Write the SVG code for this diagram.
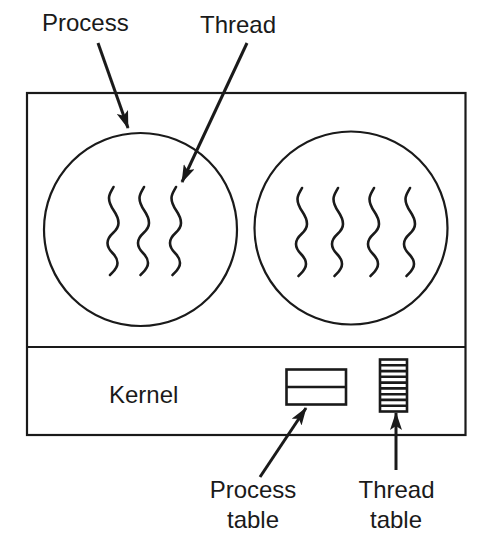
<svg xmlns="http://www.w3.org/2000/svg" xmlns:xlink="http://www.w3.org/1999/xlink" width="496" height="554" viewBox="0 0 496 554">
<style>
.box{fill:none;stroke:#1a1a1a;stroke-width:2.2}
.tbl{fill:#fff;stroke:#1a1a1a;stroke-width:2.6}
.wave{fill:none;stroke:#1a1a1a;stroke-width:2.6;stroke-linecap:round}
.arr{fill:none;stroke:#1a1a1a;stroke-width:3;marker-end:url(#ah)}
text{font-family:"Liberation Sans",Arial,Helvetica,sans-serif;font-size:24px;fill:#1a1a1a}
</style>
<defs>
<marker id="ah" markerUnits="userSpaceOnUse" markerWidth="18" markerHeight="12" viewBox="0 0 18 12" refX="17" refY="6" orient="auto">
<path d="M0,0 L18,6 L0,12 L4,6 z" fill="#1a1a1a"/>
</marker>
<path id="wave" class="wave" d="M1,0 C-1,4 -3.5,7 -3.5,11 C-3.5,22 6,25 6,36 C6,46 -5,46 -5,56 C-5,66 5,66 5,76 C5,82 0,85 -2.5,88"/>
</defs>
<g id="system">
<rect class="box" x="27" y="93" width="438.5" height="342"/>
<line class="box" x1="27" y1="347" x2="465.5" y2="347"/>
</g>
<g id="process1">
<circle class="box" cx="140.5" cy="229.5" r="96.5"/>
<use xlink:href="#wave" x="112.5" y="187"/>
<use xlink:href="#wave" x="143" y="187"/>
<use xlink:href="#wave" x="175" y="187"/>
</g>
<g id="process2">
<circle class="box" cx="351" cy="228" r="96.5"/>
<use xlink:href="#wave" x="301" y="188"/>
<use xlink:href="#wave" x="337" y="188"/>
<use xlink:href="#wave" x="373" y="188"/>
<use xlink:href="#wave" x="409" y="188"/>
</g>
<g id="kernel">
<text x="109" y="403">Kernel</text>
</g>
<g id="process-table">
<rect class="tbl" x="286.5" y="369.5" width="59.5" height="35"/>
<line class="tbl" x1="286.5" y1="387" x2="346" y2="387"/>
</g>
<g id="thread-table">
<rect class="tbl" x="380" y="359.5" width="27" height="52"/>
<path class="tbl" d="M380,365.3H407M380,371.1H407M380,376.8H407M380,382.6H407M380,388.4H407M380,394.2H407M380,399.9H407M380,405.7H407"/>
</g>
<g id="labels">
<text x="42" y="31">Process</text>
<text x="200" y="33">Thread</text>
<text x="253" y="498" text-anchor="middle">Process</text>
<text x="253" y="528" text-anchor="middle">table</text>
<text x="396.5" y="498" text-anchor="middle">Thread</text>
<text x="396" y="528" text-anchor="middle">table</text>
</g>
<g id="connectors">
<line class="arr" x1="98" y1="43" x2="128" y2="128"/>
<line class="arr" x1="247" y1="43" x2="182" y2="182"/>
<line class="arr" x1="260" y1="477" x2="306" y2="408"/>
<line class="arr" x1="396" y1="470" x2="396" y2="413"/>
</g>
</svg>
